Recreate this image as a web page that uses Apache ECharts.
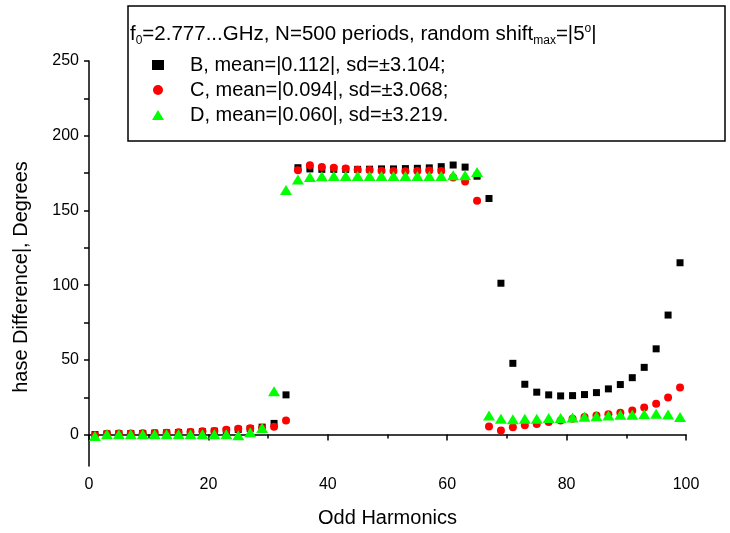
<!DOCTYPE html>
<html>
<head>
    <meta http-equiv="Content-Type" content="text/html; charset=utf-8" />
    <style type="text/css">
        body, html, #chart {width: 730px; height: 533px; overflow: hidden; margin: 0; background: #fff;}
    </style>
    <title>Odd Harmonics</title>
</head>
<body>
<div id="chart"></div>
<script src="https://cdn.jsdelivr.net/npm/echarts@6/dist/echarts.min.js"></script>
<script type="text/javascript">
    // odd harmonic numbers
    var harmonics = [1, 3, 5, 7, 9, 11, 13, 15, 17, 19, 21, 23, 25, 27, 29, 31, 33,
        35, 37, 39, 41, 43, 45, 47, 49, 51, 53, 55, 57, 59, 61, 63, 65, 67,
        69, 71, 73, 75, 77, 79, 81, 83, 85, 87, 89, 91, 93, 95, 97, 99];

    // phase difference, degrees
    var seriesB = [0, 0.5, 0.6, 0.7, 0.8, 1.0, 1.2, 1.4, 1.6, 2.0, 2.3, 2.8, 3.5, 4.0, 5.0, 7.5, 26.6,
        178.6, 177.8, 177.5, 177.5, 177.5, 177.5, 177.6, 177.8, 177.8, 178, 178.2, 178.5, 179.3, 180.4, 179, 172.9, 158,
        101.3, 47.7, 33.7, 28.4, 26.6, 25.9, 26.1, 26.8, 28.1, 30.6, 33.5, 38.1, 45, 57.4, 80, 115];
    var seriesC = [-0.5, 0.6, 0.7, 0.8, 0.9, 1.0, 1.2, 1.5, 1.8, 2.2, 2.4, 3.2, 4.0, 4.2, 4.5, 5.3, 9.5,
        176.9, 180.2, 179, 178.5, 178, 177.3, 177, 176.6, 176.4, 176.2, 176.4, 176.8, 176.4, 172, 169.3, 156.5, 5.5,
        2.7, 4.9, 6.2, 7.1, 8.4, 9.5, 10.6, 11.8, 12.8, 13.7, 14.6, 16.2, 18.2, 20.6, 24.8, 31.5];
    var seriesD = [-1, 0.2, 0.3, 0.3, 0.3, 0.3, 0.3, 0.3, 0.3, 0.3, 0.3, 0.3, -0.5, 1.5, 4.5, 29, 163.6,
        170.7, 172.3, 172.8, 173, 173, 173, 173, 173, 173, 173, 173, 173, 173, 173.5, 173.5, 175.8, 12.8,
        10.6, 10.2, 10.6, 10.6, 11.1, 11.1, 11.5, 12, 12.3, 12.8, 13.3, 13.3, 13.7, 13.9, 13.5, 11.8];

    var names = ['B, mean=|0.112|, sd=\u00b13.104;', 'C, mean=|0.094|, sd=\u00b13.068;', 'D, mean=|0.060|, sd=\u00b13.219.'];

    // y ticks every 25, labels every 50
    var yTicks = [0, 25, 50, 75, 100, 125, 150, 175, 200, 225, 250];
    var yLabels = [0, 50, 100, 150, 200, 250];

    function pairs(ys) {
        return harmonics.map(function (h, i) { return [h, ys[i]]; });
    }

    var font = 'Liberation Sans, Arial, sans-serif';
    var myChart = echarts.init(document.getElementById('chart'), null, {renderer: 'canvas'});

    myChart.setOption({
        animation: false,
        backgroundColor: '#fff',
        grid: {left: 89, right: 44, top: 61, bottom: 65},
        xAxis: {
            type: 'value',
            min: 0, max: 100, interval: 20,
            name: 'Odd Harmonics',
            nameLocation: 'middle',
            nameGap: 42,
            nameTextStyle: {fontFamily: font, fontSize: 20, color: '#000'},
            axisLine: {lineStyle: {color: '#000', width: 1.5}},
            axisTick: {length: 6, lineStyle: {color: '#000', width: 1.5}},
            minorTick: {show: true, splitNumber: 2, length: 4, lineStyle: {color: '#000', width: 1.5}},
            axisLabel: {fontFamily: font, fontSize: 16, color: '#000', margin: 11},
            splitLine: {show: false}
        },
        yAxis: {
            type: 'value',
            min: -21, max: 250,
            axisLine: {show: true, lineStyle: {color: '#000', width: 1.5}},
            axisTick: {show: true, length: 5, customValues: yTicks, lineStyle: {color: '#000', width: 1.5}},
            axisLabel: {fontFamily: font, fontSize: 16, color: '#000', margin: 10, customValues: yLabels},
            splitLine: {show: false}
        },
        legend: {
            data: names,
            orient: 'vertical',
            left: 152, top: 54,
            padding: 0,
            itemGap: 3,
            itemWidth: 12, itemHeight: 10,
            textStyle: {fontFamily: font, fontSize: 20, color: '#000', lineHeight: 22, padding: [0, 0, 0, 21]}
        },
        graphic: [
            {
                type: 'rect',
                shape: {x: 128, y: 6, width: 597, height: 135},
                style: {fill: '#fff', stroke: '#000', lineWidth: 1.5},
                z: -1
            },
            {
                type: 'text',
                x: 130, y: 34,
                style: {
                    text: '{n|f}{sub|0}{n|=2.777...GHz, N=500 periods, random shift}{sub|max}{n|=|5}{sup|o}{n||}',
                    verticalAlign: 'middle',
                    rich: {
                        n: {fontFamily: font, fontSize: 20.5, color: '#000', lineHeight: 26},
                        sub: {fontFamily: font, fontSize: 12, color: '#000', lineHeight: 26, padding: [14, 0, 0, 0]},
                        sup: {fontFamily: font, fontSize: 12, color: '#000', lineHeight: 26, padding: [0, 0, 10, 0]}
                    }
                }
            },
            {
                type: 'text',
                x: 21, y: 277,
                rotation: Math.PI / 2,
                style: {
                    text: 'hase Difference|, Degrees',
                    fontFamily: font, fontSize: 20, fill: '#000',
                    align: 'center', verticalAlign: 'middle'
                }
            }
        ],
        series: [
            {
                name: names[0], type: 'scatter', data: pairs(seriesB),
                symbol: 'rect', symbolSize: 7,
                itemStyle: {color: '#000', opacity: 1}
            },
            {
                name: names[1], type: 'scatter', data: pairs(seriesC),
                symbol: 'circle', symbolSize: 8,
                itemStyle: {color: '#ff0000', opacity: 1}
            },
            {
                name: names[2], type: 'scatter', data: pairs(seriesD),
                symbol: 'triangle', symbolSize: [12, 10],
                itemStyle: {color: '#00ff00', opacity: 1}
            }
        ]
    });
</script>
</body>
</html>
